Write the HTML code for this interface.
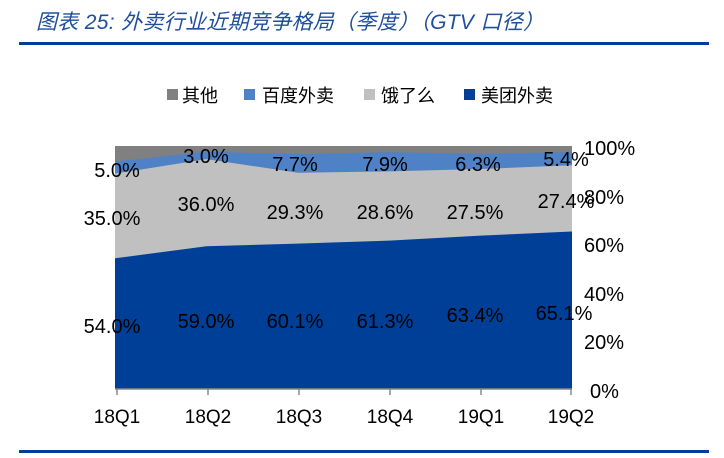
<!DOCTYPE html>
<html><head><meta charset="utf-8"><style>
html,body{margin:0;padding:0;background:#fff;width:724px;height:458px;overflow:hidden}
</style></head><body>
<svg width="724" height="458" xmlns="http://www.w3.org/2000/svg" font-family="'Liberation Sans','Noto Sans CJK SC',sans-serif">
<text x="36" y="29" font-size="21" font-style="italic" fill="#1f4e9a" textLength="508" font-family="'Liberation Sans','Noto Sans CJK SC',sans-serif">图表 25:  外卖行业近期竞争格局（季度）（GTV 口径）</text>
<rect x="19" y="42" width="690" height="3" fill="#003f98"/>
<g font-size="18" fill="#000">
<rect x="167" y="89" width="11" height="11" fill="#808080"/><text x="182" y="102">其他</text>
<rect x="244" y="89" width="11" height="11" fill="#4f81c6"/><text x="262" y="102">百度外卖</text>
<rect x="364" y="89" width="11" height="11" fill="#c0c0c0"/><text x="381" y="102">饿了么</text>
<rect x="464" y="89" width="11" height="11" fill="#003f98"/><text x="481" y="102">美团外卖</text>
</g>
<rect x="115" y="146" width="457" height="243" fill="#808080"/>
<polygon fill="#4f81c6" points="115,161.5 206.4,151.8 297.8,154 389.2,152.3 480.6,153.8 572,152.1 572,389 115,389"/>
<polygon fill="#c0c0c0" points="115,173.6 206.4,159.1 297.8,172.7 389.2,171.4 480.6,169 572,165.2 572,389 115,389"/>
<polygon fill="#003f98" points="115,258.3 206.4,246.2 297.8,243.6 389.2,240.6 480.6,235.6 572,231.5 572,389 115,389"/>
<g stroke="#888" stroke-width="1.5">
<line x1="115" y1="389" x2="572" y2="389"/>
<line x1="117" y1="389" x2="117" y2="395"/><line x1="208" y1="389" x2="208" y2="395"/><line x1="299" y1="389" x2="299" y2="395"/><line x1="390" y1="389" x2="390" y2="395"/><line x1="481" y1="389" x2="481" y2="395"/><line x1="571" y1="389" x2="571" y2="395"/>
</g>
<g font-size="20" fill="#000" text-anchor="middle">
<text x="117" y="177">5.0%</text><text x="206" y="163">3.0%</text><text x="295" y="171">7.7%</text><text x="385" y="171">7.9%</text><text x="478" y="171">6.3%</text><text x="566" y="166">5.4%</text>
<text x="112" y="225">35.0%</text><text x="206" y="211">36.0%</text><text x="295" y="219">29.3%</text><text x="385" y="219">28.6%</text><text x="475" y="219">27.5%</text><text x="566" y="208">27.4%</text>
<text x="112" y="333">54.0%</text><text x="206" y="328">59.0%</text><text x="295" y="328">60.1%</text><text x="385" y="328">61.3%</text><text x="475" y="322">63.4%</text><text x="564" y="320">65.1%</text>
</g>
<g font-size="20" fill="#000">
<text x="584" y="155">100%</text><text x="584" y="204">80%</text><text x="584" y="252">60%</text><text x="584" y="301">40%</text><text x="584" y="349">20%</text><text x="590" y="398">0%</text>
</g>
<g font-size="19" fill="#000" text-anchor="middle">
<text x="117" y="423">18Q1</text><text x="208" y="423">18Q2</text><text x="299" y="423">18Q3</text><text x="390" y="423">18Q4</text><text x="481" y="423">19Q1</text><text x="571" y="423">19Q2</text>
</g>
<rect x="19" y="450" width="690" height="3" fill="#003f98"/>
</svg>
</body></html>
